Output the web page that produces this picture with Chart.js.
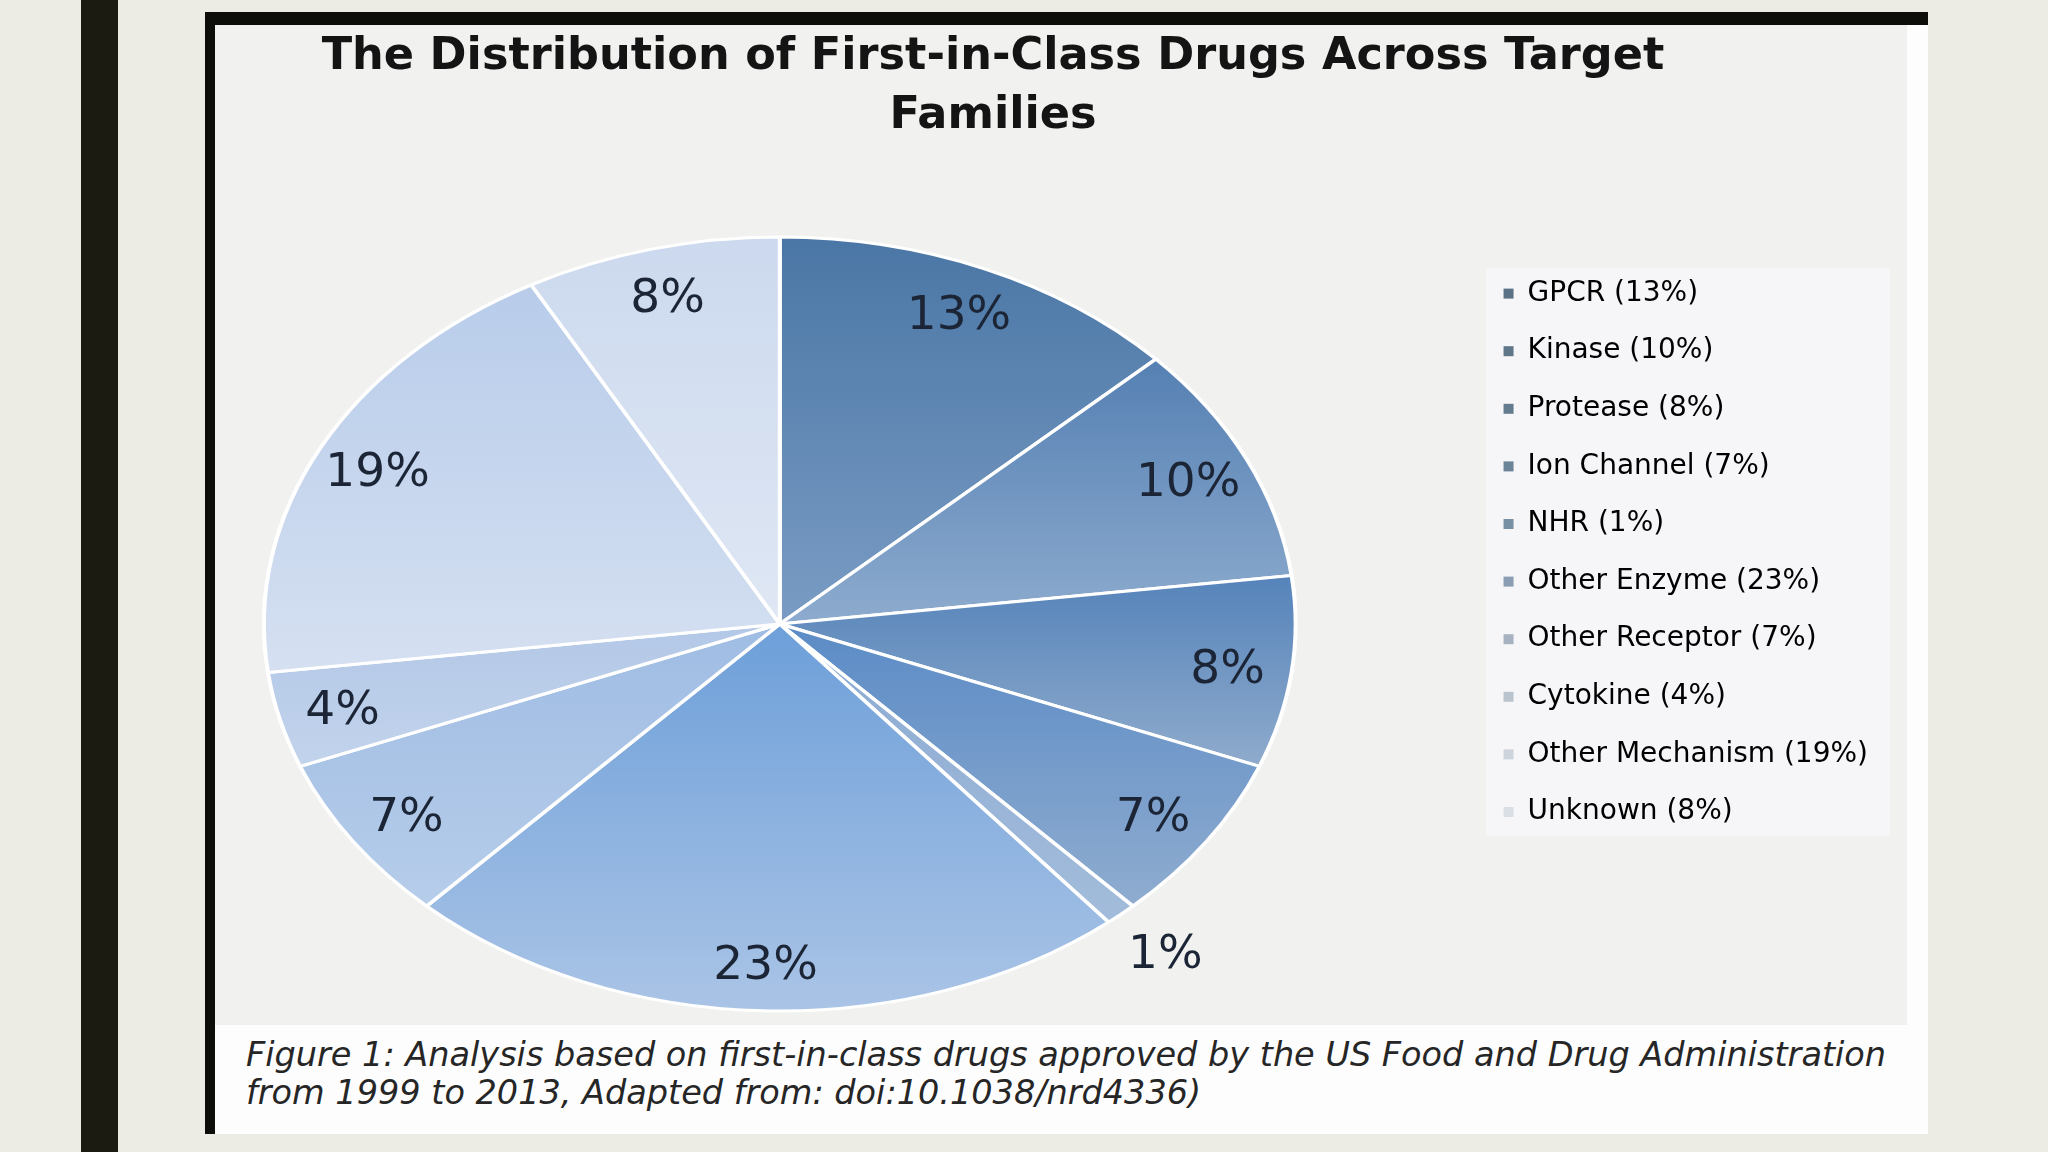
<!DOCTYPE html>
<html>
<head>
<meta charset="utf-8">
<script src="https://cdn.jsdelivr.net/npm/chart.js@4.4.1/dist/chart.umd.min.js"></script>
<style>
  html, body { margin: 0; padding: 0; }
  body { width: 2048px; height: 1152px; background: #ECECE4; position: relative; overflow: hidden; font-family: "DejaVu Sans", sans-serif; }
  .bar { position: absolute; left: 81px; top: 0; width: 37px; height: 1152px; background: #1C1B12; }
  .card { position: absolute; left: 205px; top: 12px; width: 1723px; height: 1122px; box-sizing: border-box;
          background: #FDFDFD; border-top: 13px solid #0D0D0A; border-left: 10px solid #0D0D0A; }
  .plot { position: absolute; left: 215px; top: 25px; width: 1692px; height: 1000px; background: #F1F1EF; }
  .legend-bg { position: absolute; left: 1486px; top: 268px; width: 404px; height: 568px; background: #F6F6F8; border-radius: 4px; }
  .title { position: absolute; left: 193px; top: 25px; width: 1600px; text-align: center; font-weight: bold;
           font-size: 44.6px; line-height: 59px; color: #141414; white-space: nowrap; z-index: 2; }
  .caption { position: absolute; left: 246px; top: 1036px; font-style: italic; font-size: 33.5px; line-height: 38px;
             color: #262626; white-space: nowrap; z-index: 2; }
  .wrap { position: absolute; left: 60px; top: 24px; width: 1988px; height: 1001px; z-index: 1; }
</style>
</head>
<body>
<div class="bar"></div>
<div class="card"></div>
<div class="plot"></div>
<div class="legend-bg"></div>
<div class="title">The Distribution of First-in-Class Drugs Across Target<br>Families</div>
<div class="wrap"><canvas id="pie_chart"></canvas></div>
<div class="caption">Figure 1: Analysis based on first-in-class drugs approved by the US Food and Drug Administration<br>from 1999 to 2013, Adapted from: doi:10.1038/nrd4336)</div>

<script>
// Target families and their share of first-in-class drugs (%)
const categories = ["GPCR", "Kinase", "Protease", "Ion Channel", "NHR", "Other Enzyme",
  "Other Receptor", "Cytokine", "Other Mechanism", "Unknown"];
const shares = [13, 10, 8, 7, 1, 23, 7, 4, 19, 8];

// gradient colours for each slice (top of slice -> bottom of slice)
const topColors = ["#4A76A5", "#5580B3", "#5583BA", "#5B8BC6", "#8AAAD2",
  "#6D9FD9", "#9FBCE3", "#B3C8E7", "#B8CCEA", "#CCD9EE"];
const bottomColors = ["#7A9CC4", "#8DABCE", "#8FABCC", "#8FACCF", "#A3BCDB",
  "#AAC4E6", "#B6CDEA", "#C2D3EC", "#D5E0F1", "#DFE7F4"];
const legendColors = ["#5B7286", "#5F7689", "#627B8E", "#6C8498", "#7890A4",
  "#8A9DB2", "#A6B2C0", "#BAC4CE", "#CDD4DC", "#DADFE6"];

const SX = 1.333; // the picture is stretched sideways

function sliceFill(context) {
  const i = context.dataIndex;
  const el = context.element;
  if (!el || el.x === undefined || !el.outerRadius) return topColors[i];
  const { x, y, startAngle, endAngle, outerRadius } = el;
  const ys = [y, y + Math.sin(startAngle) * outerRadius, y + Math.sin(endAngle) * outerRadius];
  [-Math.PI / 2, Math.PI / 2, 3 * Math.PI / 2].forEach((a) => {
    if (a > startAngle && a < endAngle) ys.push(y + Math.sin(a) * outerRadius);
  });
  const g = context.chart.ctx.createLinearGradient(0, Math.min(...ys), 0, Math.max(...ys));
  g.addColorStop(0, topColors[i]);
  g.addColorStop(1, bottomColors[i]);
  return g;
}

// stretch the pie horizontally and write the % labels
const stretchPie = {
  id: "stretchPie",
  beforeDatasetsDraw(chart) {
    const arc = chart.getDatasetMeta(0).data[0];
    const ctx = chart.ctx;
    ctx.save();
    ctx.translate(arc.x, arc.y);
    ctx.scale(SX, 1);
    ctx.translate(-arc.x, -arc.y);
  },
  afterDatasetsDraw(chart) {
    const ctx = chart.ctx;
    ctx.restore();
    ctx.save();
    ctx.font = "47px 'DejaVu Sans'";
    ctx.fillStyle = "#1B2536";
    ctx.textAlign = "center";
    ctx.textBaseline = "middle";
    chart.getDatasetMeta(0).data.forEach((arc, i) => {
      const mid = (arc.startAngle + arc.endAngle) / 2;
      const f = shares[i] < 2 ? 1.13 : 0.875; // tiny slice gets its label outside
      const x = arc.x + Math.cos(mid) * arc.outerRadius * f * SX;
      const y = arc.y + Math.sin(mid) * arc.outerRadius * f + 4;
      ctx.fillText(shares[i] + "%", x, y);
    });
    ctx.restore();
  },
};

const ctx = document.getElementById("pie_chart").getContext("2d");
const chart = new Chart(ctx, {
  type: "pie",
  data: {
    labels: categories,
    datasets: [{
      data: shares,
      backgroundColor: sliceFill,
      borderColor: "#ffffff",
      borderWidth: 3,
      radius: 387,
      clip: false,
      hoverOffset: 0,
    }],
  },
  options: {
    responsive: true,
    maintainAspectRatio: false,
    animation: false,
    events: [],
    layout: { padding: { left: 25.6, right: 170, top: 226, bottom: 27 } },
    plugins: {
      tooltip: { enabled: false },
      legend: {
        position: "right",
        align: "start",
        maxWidth: 800,
        labels: {
          boxWidth: 10,
          boxHeight: 10,
          padding: 29.6,
          color: "#333333",
          font: { family: "DejaVu Sans", size: 28 },
          generateLabels: () => categories.map((name, i) => ({
            text: `${name} (${shares[i]}%)`,
            fillStyle: legendColors[i],
            strokeStyle: legendColors[i],
            lineWidth: 0,
            hidden: false,
            index: i,
          })),
        },
      },
    },
  },
  plugins: [stretchPie],
});
// second pass so the gradients know each slice's geometry
chart.update("none");
</script>
</body>
</html>
